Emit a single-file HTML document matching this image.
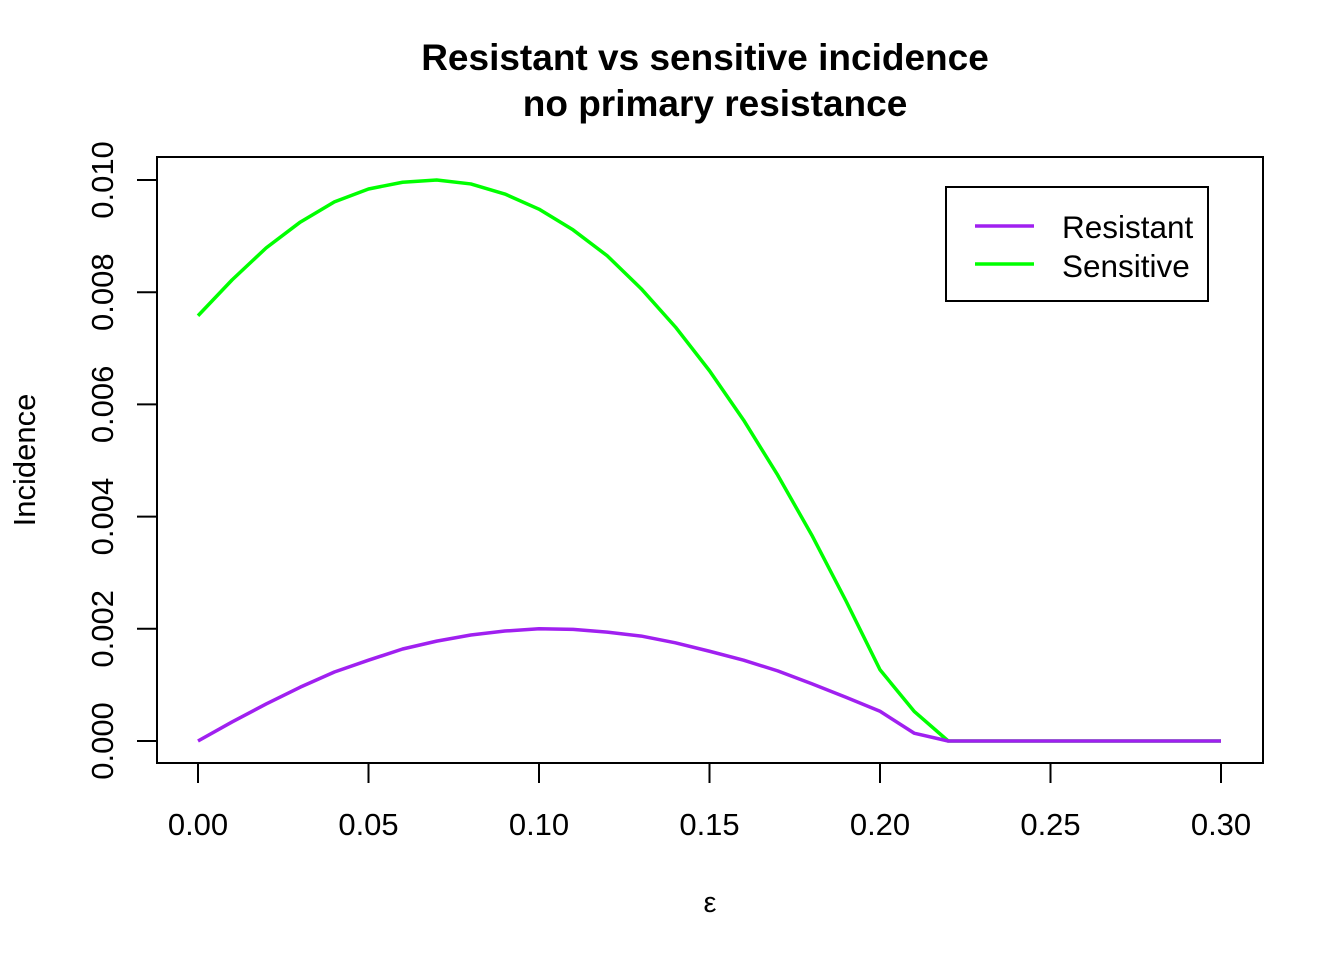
<!DOCTYPE html>
<html><head><meta charset="utf-8"><style>
body{margin:0;background:#fff}
svg text{font-family:"Liberation Sans",Arial,sans-serif;fill:#000}
</style></head><body>
<svg width="1344" height="960" viewBox="0 0 1344 960">
<text x="705" y="70" font-size="37" font-weight="bold" text-anchor="middle">Resistant vs sensitive incidence</text>
<text x="715" y="116" font-size="37" font-weight="bold" text-anchor="middle">no primary resistance</text>
<rect x="157" y="157" width="1106" height="606" fill="none" stroke="#000" stroke-width="2"/>
<g id="xaxis"></g>
<g id="yaxis"></g>
<text x="710" y="912" font-size="29" text-anchor="middle" font-family="Liberation Serif">ε</text>
<text transform="translate(35,460) rotate(-90)" font-size="31" text-anchor="middle">Incidence</text>
<g id="series"></g>
<g>
<rect x="946" y="187" width="262" height="114" fill="#fff" stroke="#000" stroke-width="2"/>
<line x1="975" y1="226" x2="1034" y2="226" stroke="#a020f0" stroke-width="3.5"/>
<text x="1062" y="238" font-size="31.5">Resistant</text>
<line x1="975" y1="264" x2="1034" y2="264" stroke="#00ff00" stroke-width="3.5"/>
<text x="1062" y="277" font-size="31.5">Sensitive</text>
</g>
</svg>
<script>
const eps=[0,0.01,0.02,0.03,0.04,0.05,0.06,0.07,0.08,0.09,0.10,0.11,0.12,0.13,0.14,0.15,0.16,0.17,0.18,0.19,0.20,0.21,0.22,0.23,0.24,0.25,0.26,0.27,0.28,0.29,0.30];
const sensitive=[0.00758,0.00822,0.00879,0.00925,0.00961,0.00984,0.00996,0.0100,0.00993,0.00975,0.00948,0.00911,0.00865,0.00806,0.00738,0.00660,0.00572,0.00474,0.00367,0.00250,0.00127,0.00053,0,0,0,0,0,0,0,0,0];
const resistant=[0,0.00034,0.00066,0.00096,0.00123,0.00144,0.00164,0.00178,0.00189,0.00196,0.00200,0.00199,0.00194,0.00187,0.00175,0.00160,0.00144,0.00125,0.00102,0.00078,0.00053,0.00014,0,0,0,0,0,0,0,0,0];
const xTicks=[0,0.05,0.10,0.15,0.20,0.25,0.30];
const xTickLabels=["0.00","0.05","0.10","0.15","0.20","0.25","0.30"];
const yTicks=[0,0.002,0.004,0.006,0.008,0.010];
const yTickLabels=["0.000","0.002","0.004","0.006","0.008","0.010"];
const NS="http://www.w3.org/2000/svg";
const X=v=>198+v*(1221-198)/0.3;
const Y=v=>741-v*(741-180)/0.01;
function mk(tag,attrs,parent){const e=document.createElementNS(NS,tag);for(const k in attrs)e.setAttribute(k,attrs[k]);parent.appendChild(e);return e;}
const xa=document.getElementById('xaxis'),ya=document.getElementById('yaxis'),sg=document.getElementById('series');
xTicks.forEach((t,i)=>{
 const l=mk('line',{x1:X(t),x2:X(t),y1:763,y2:783,stroke:'#000','stroke-width':2},xa);
 
 
 const tx=mk('text',{x:X(t),y:835,'font-size':31,'text-anchor':'middle'},xa);
 tx.textContent=xTickLabels[i];
 
 
});
yTicks.forEach((t,i)=>{
 const l=mk('line',{x1:137,x2:157,y1:Y(t),y2:Y(t),stroke:'#000','stroke-width':2},ya);
 
 
 const tx=mk('text',{transform:`translate(113,${Y(t)}) rotate(-90)`,'font-size':31,'text-anchor':'middle'},ya);
 tx.textContent=yTickLabels[i];
 
 
});
function line(vals,color,name){
 const p=mk('polyline',{points:vals.map((v,i)=>X(eps[i])+','+Y(v)).join(' '),fill:'none',stroke:color,'stroke-width':3.5,'stroke-linejoin':'round'},sg);
 
 
}
line(sensitive,'#00ff00','sensitive-line');
line(resistant,'#a020f0','resistant-line');
</script>
</body></html>
